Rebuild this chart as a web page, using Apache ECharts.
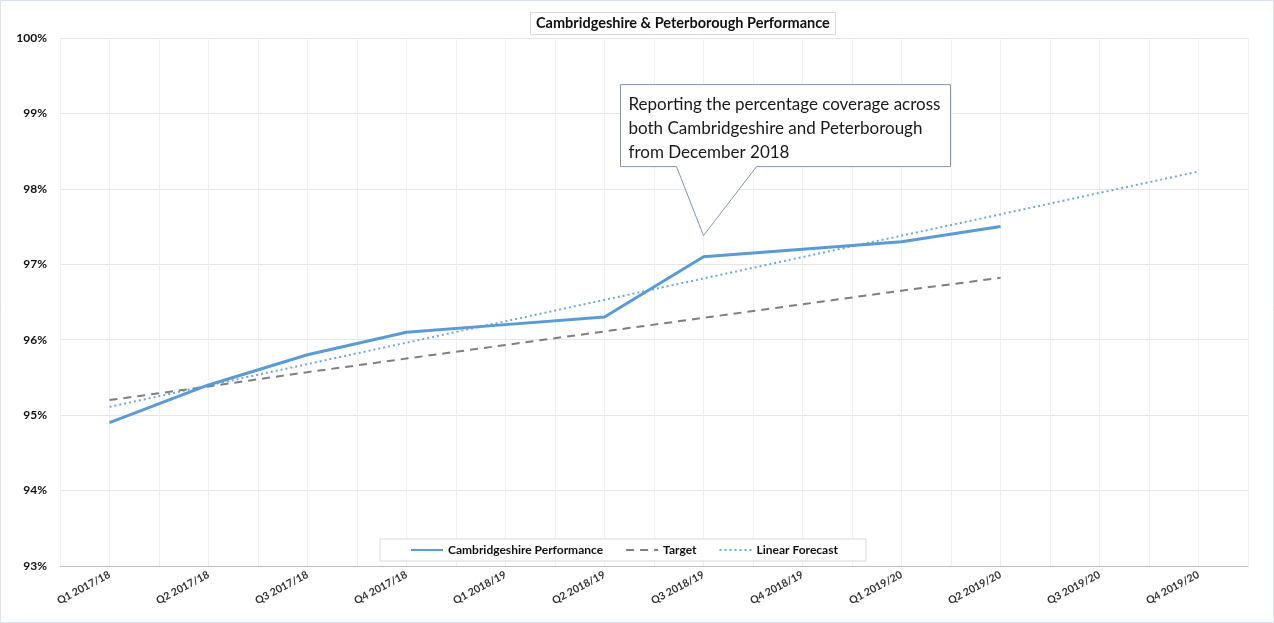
<!DOCTYPE html>
<html>
<head>
<meta charset="utf-8">
<script src="https://cdn.jsdelivr.net/npm/echarts@6/dist/echarts.min.js"></script>
<style>
html,body{margin:0;padding:0;background:#fff;}
#chart{width:1274px;height:623px;}
</style>
</head>
<body>
<div id="chart"></div>
<script>
const categories = ['Q1 2017/18','Q2 2017/18','Q3 2017/18','Q4 2017/18','Q1 2018/19','Q2 2018/19','Q3 2018/19','Q4 2018/19','Q1 2019/20','Q2 2019/20','Q3 2019/20','Q4 2019/20'];
const performance = [94.9, 95.4, 95.8, 96.1, 96.2, 96.3, 97.1, 97.2, 97.3, 97.5];
const target = [95.2, 95.38, 95.57, 95.75, 95.93, 96.11, 96.29, 96.47, 96.65, 96.82];
const forecastStart = 95.11;   // trendline value at Q1 2017/18
const forecastEnd = 98.23;     // trendline value at Q4 2019/20
const yTicks = [93, 94, 95, 96, 97, 98, 99, 100];
const calloutLines = ['Reporting the percentage coverage across', 'both Cambridgeshire and Peterborough', 'from December 2018'];
const calloutTip = [6, 97.38];

const FONT = 'Lato, "Noto Sans", sans-serif';
const chart = echarts.init(document.getElementById('chart'));

const option = {
  animation: false,
  backgroundColor: '#fff',
  title: {
    text: 'Cambridgeshire & Peterborough Performance',
    left: 530, top: 12,
    padding: [4, 6],
    borderColor: '#d9d9d9', borderWidth: 1,
    textStyle: {fontFamily: FONT, fontWeight: 'bold', fontSize: 14.5, color: '#111'}
  },
  legend: {
    left: 380, top: 539,
    padding: [5, 28, 5, 30],
    itemGap: 22,
    itemWidth: 32, itemHeight: 10,
    itemStyle: {opacity: 0},
    borderColor: '#d9d9d9', borderWidth: 1,
    backgroundColor: '#fff',
    textStyle: {fontFamily: FONT, fontWeight: 'bold', fontSize: 12, color: '#111'},
    data: ['Cambridgeshire Performance', 'Target', 'Linear Forecast']
  },
  grid: {left: 60, right: 26, top: 38, bottom: 57},
  xAxis: {
    type: 'value',
    min: -0.5, max: 11.5, interval: 0.5,
    axisLine: {show: true, lineStyle: {color: '#bfbfbf', width: 1}},
    axisTick: {show: false},
    splitLine: {show: true, lineStyle: {color: '#efefef', width: 1}},
    axisLabel: {
      rotate: 28, margin: 8,
      fontFamily: FONT, fontWeight: 'bold', fontSize: 10.5, color: '#333',
      showMinLabel: true, showMaxLabel: true,
      formatter: v => Number.isInteger(v) && categories[v] ? categories[v] : ''
    }
  },
  yAxis: {
    type: 'value',
    min: yTicks[0], max: yTicks[yTicks.length - 1], interval: 1,
    axisLine: {show: false},
    axisTick: {show: false},
    splitLine: {show: true, lineStyle: {color: '#e6e6e6', width: 1}},
    axisLabel: {
      margin: 13,
      fontFamily: FONT, fontWeight: 'bold', fontSize: 12, color: '#111',
      formatter: v => v + '%'
    }
  },
  series: [
    {
      name: 'Cambridgeshire Performance', type: 'line',
      data: performance.map((v, i) => [i, v]),
      symbol: 'none', z: 4,
      lineStyle: {color: '#5b9bd5', width: 3},
      itemStyle: {color: '#5b9bd5'}
    },
    {
      name: 'Target', type: 'line',
      data: target.map((v, i) => [i, v]),
      symbol: 'none', z: 3,
      lineStyle: {color: '#7f7f7f', width: 2, type: [8, 6]},
      itemStyle: {color: '#7f7f7f'}
    },
    {
      name: 'Linear Forecast', type: 'line',
      data: [[0, forecastStart], [categories.length - 1, forecastEnd]],
      symbol: 'none', z: 2,
      lineStyle: {color: '#6fa8dc', width: 2, type: [2, 3]},
      itemStyle: {color: '#6fa8dc'}
    }
  ]
};
chart.setOption(option);

// callout annotation anchored at a data coordinate
const tip = chart.convertToPixel({gridIndex: 0}, calloutTip);
const tx = tip[0], ty = tip[1];
const L = tx - 83, R = tx + 247, T = ty - 151, B = ty - 69;
chart.setOption({
  graphic: [
    {
      type: 'rect', silent: true,
      shape: {x: 0.5, y: 0.5, width: 1273, height: 622},
      style: {fill: 'none', stroke: '#dbe4ee', lineWidth: 1}, z: -1
    },
    {
      type: 'polygon', silent: true, z: 100,
      shape: {points: [[L, T], [R, T], [R, B], [tx + 53, B], [tx, ty], [tx - 27, B], [L, B]]},
      style: {fill: '#fff', stroke: '#8497b0', lineWidth: 1}
    },
    {
      type: 'text', silent: true, z: 101,
      left: L + 8, top: T + 8,
      style: {
        text: calloutLines.join('\n'),
        font: '17px ' + FONT, fill: '#1a1a1a', lineHeight: 24
      }
    }
  ]
});
</script>
</body>
</html>
